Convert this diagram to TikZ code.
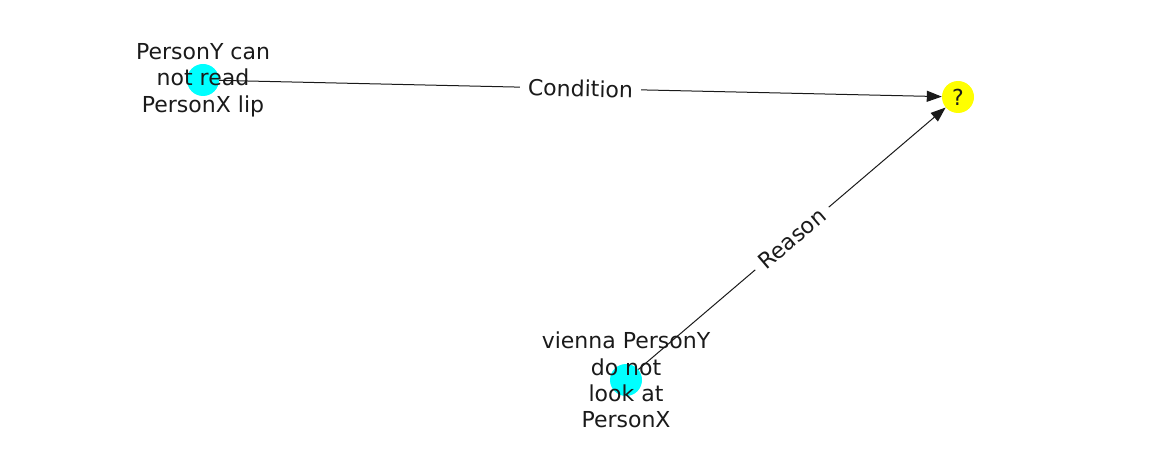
\documentclass[tikz,border=0pt]{standalone}
\usepackage{fontspec}
\setmainfont{DejaVu Sans}
\usetikzlibrary{arrows.meta}
\definecolor{txt}{HTML}{1A1A1A}
\definecolor{ncyan}{HTML}{00FFFF}
\definecolor{nyellow}{HTML}{FFFF00}
\begin{document}
\begin{tikzpicture}[x=1pt,y=-1pt,
  dot/.style={circle,minimum size=32pt,inner sep=0pt,draw=none},
  lbl/.style={font=\fontsize{22}{26.4}\selectfont,text=txt,align=center,inner sep=0pt},
  edgeline/.style={-{Triangle[length=15pt,width=11pt]},line width=1pt,draw=txt},
  elabel/.style={fill=white,font=\fontsize{22}{26.4}\selectfont,text=txt,inner xsep=8pt,inner ysep=4pt}]
\useasboundingbox (0,0) rectangle (1162,462);
\node[dot,fill=ncyan] (a) at (203,80) {};
\node[dot,fill=nyellow] (q) at (958,97) {};
\node[dot,fill=ncyan] (b) at (626,380) {};
\draw[edgeline] (a) -- (q);
\draw[edgeline] (b) -- (q);
\path (a.center) -- (q.center) node[midway,sloped,elabel] (lc) {Condition};
\path (b.center) -- (q.center) node[midway,sloped,elabel] (lr) {Reason};
\node[lbl] (ta) at (203,80) {PersonY can\\not read\\PersonX lip};
\node[lbl] (tq) at (958,97) {?};
\node[lbl] (tb) at (626,380) {vienna PersonY\\do not\\look at\\PersonX};
\end{tikzpicture}
\end{document}
